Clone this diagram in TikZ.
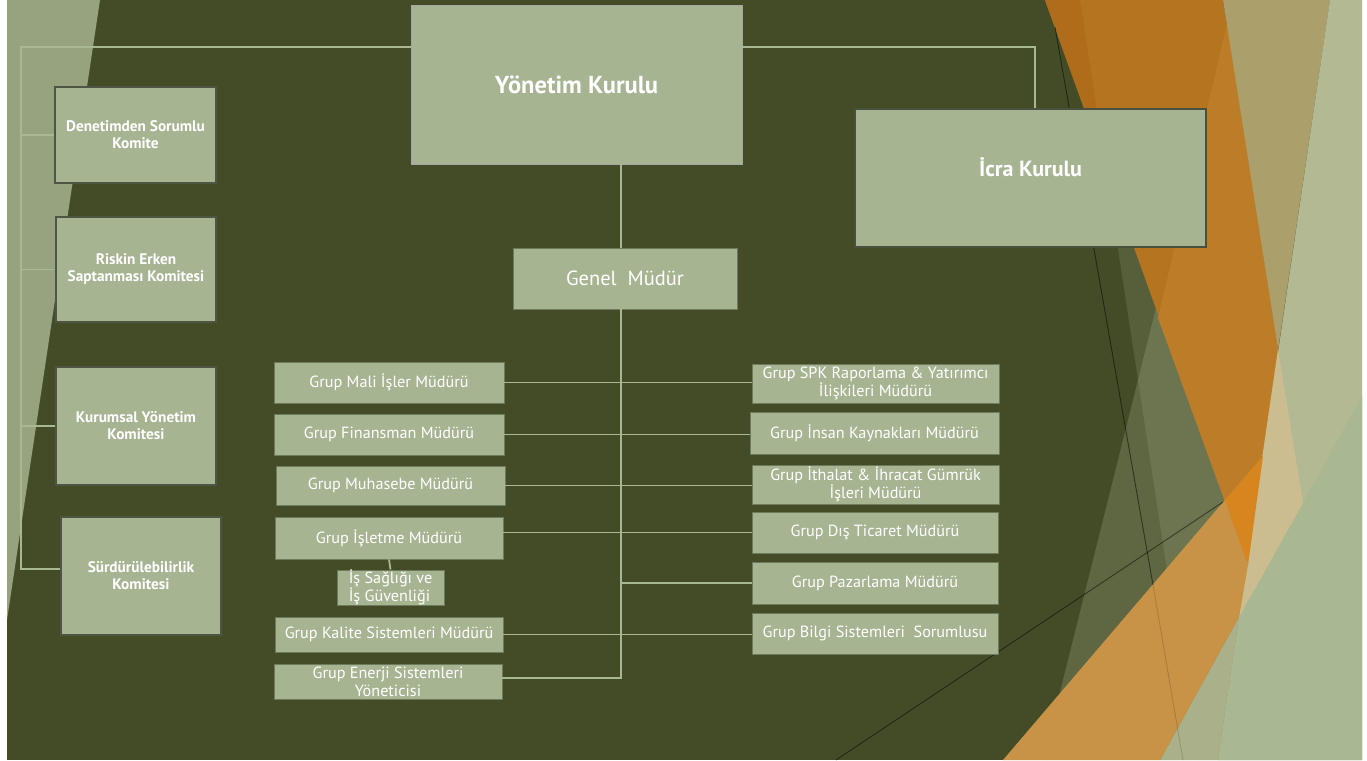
\documentclass[tikz,border=0pt]{standalone}
\usepackage{fontspec}
\setmainfont{PT Sans}

\definecolor{slide}{HTML}{444C27}
\definecolor{sage}{HTML}{A6B491}
\definecolor{sageline}{HTML}{6E7A5C}
\definecolor{komiteline}{HTML}{4E5544}
\definecolor{icraline}{HTML}{4A5040}
\definecolor{wire}{HTML}{A9B795}
\definecolor{strip}{HTML}{97A27F}
\definecolor{veil}{HTML}{B5BF9A}
\definecolor{orange1}{HTML}{B57420}
\definecolor{orange2}{HTML}{BD7D28}
\definecolor{orange0}{HTML}{AF6D1B}
\definecolor{tan}{HTML}{AB9F6B}
\definecolor{pale}{HTML}{B2B993}
\definecolor{paleg}{HTML}{A9B792}
\definecolor{khaki}{HTML}{AAB18A}
\definecolor{beige}{HTML}{CBBD8F}
\definecolor{wedge}{HTML}{C99347}
\definecolor{bright}{HTML}{D7861F}

\begin{document}
\begin{tikzpicture}[x=1pt, y=-1pt,
  kutu/.style={fill=sage, draw=sageline, line width=0.8pt, text=white, inner sep=0pt,
    align=center, font=\fontsize{16.2}{18}\selectfont},
  komite/.style={kutu, draw=komiteline, line width=1.3pt, font=\bfseries\fontsize{15.3}{17}\selectfont},
  kurul/.style={kutu, draw=gray!70, font=\bfseries\fontsize{24.5}{28}\selectfont},
  hat/.style={draw=wire, line width=1.8pt}]

\useasboundingbox (0,0) rectangle (1367,760);
\fill[white] (0,0) rectangle (1367,760);
\fill[slide] (7,0) rectangle (1362,760);

% left facet
\fill[strip] (7,0) -- (100,0) -- (7,620) -- cycle;

% right facets
\fill[veil, opacity=.17] (1080,0) -- (1362,0) -- (1362,760) -- (1196,760) -- cycle;
\fill[veil, opacity=.24] (1233,0) -- (1362,0) -- (1362,760) -- (1043,760) -- cycle;
\fill[orange1] (1045,0) -- (1223,0) -- (1278,349) -- (1248,565) -- cycle;
\fill[orange0] (1045,0) -- (1080,0) -- (1106,169) -- cycle;
\fill[orange2] (1227,24) -- (1278,349) -- (1248,565) -- (1158,318) -- cycle;
\fill[tan] (1223,0) -- (1330,0) -- (1278,349) -- cycle;
\fill[pale] (1330,0) -- (1362,0) -- (1362,760) -- (1218,760) -- cycle;
\fill[paleg] (1218,760) -- (1239,617) -- (1303,503) -- (1362,396) -- (1362,760) -- cycle;
\fill[beige] (1278,349) -- (1303,503) -- (1239,617) -- cycle;
\fill[khaki] (1160,760) -- (1239,617) -- (1218,760) -- cycle;
\fill[wedge] (1003,760) -- (1160,760) -- (1239,617) -- (1248,565) -- (1225,500) -- cycle;
\fill[bright] (1225,500) -- (1263,456) -- (1248,565) -- cycle;
\draw[black, opacity=.5, line width=.9pt] (1055,27) -- (1153,585);
\draw[black, opacity=.15, line width=.9pt] (1153,585) -- (1183,760);
\draw[black, opacity=.5, line width=.9pt] (836,760) -- (1223,502);

% boards
\node[kurul, minimum width=331pt, minimum height=159pt] (yk) at (576.5,84.5) {Yönetim Kurulu};
\node[kurul, draw=icraline, line width=2pt, font=\bfseries\fontsize{22}{26}\selectfont,
  minimum width=351pt, minimum height=138pt] (icra) at (1030.5,178)
  {\raisebox{11pt}[\height][\depth]{İcra Kurulu}};
\node[kutu, font=\fontsize{20.5}{24}\selectfont, minimum width=224pt, minimum height=61pt] (gm) at (625,278.5) {Genel\ \ Müdür};

% committees
\node[komite, minimum width=161pt, minimum height=96pt] (den) at (135.5,135) {Denetimden Sorumlu\\Komite};
\node[komite, minimum width=160pt, minimum height=105pt] (risk) at (136,269.5) {Riskin Erken\\Saptanması Komitesi};
\node[komite, minimum width=160pt, minimum height=118pt] (kur) at (136,426) {Kurumsal Yönetim\\Komitesi};
\node[komite, minimum width=160pt, minimum height=118pt] (sur) at (141,576) {Sürdürülebilirlik\\Komitesi};

% left column
\node[kutu, minimum width=230pt, minimum height=41pt] (mali) at (389,382.5) {Grup Mali İşler Müdürü};
\node[kutu, minimum width=230pt, minimum height=41pt] (fin) at (389,434.5) {Grup Finansman Müdürü};
\node[kutu, minimum width=229pt, minimum height=39pt] (muh) at (390.5,485.5) {Grup Muhasebe Müdürü};
\node[kutu, minimum width=228pt, minimum height=42pt] (isl) at (389,538) {Grup İşletme Müdürü};
\node[kutu, align=left, minimum width=107pt, minimum height=35pt] (isg) at (390.5,587.5) {İş Sağlığı ve\\İş Güvenliği};
\node[kutu, minimum width=228pt, minimum height=35pt] (kal) at (389,634.5) {Grup Kalite Sistemleri Müdürü};
\node[kutu, minimum width=228pt, minimum height=35pt] (ene) at (388,681.5) {Grup Enerji Sistemleri\\Yöneticisi};

% right column
\node[kutu, minimum width=247pt, minimum height=39pt] (spk) at (875.5,383.5) {Grup SPK Raporlama \& Yatırımcı\\İlişkileri Müdürü};
\node[kutu, minimum width=249pt, minimum height=42pt] (insan) at (874.5,433) {Grup İnsan Kaynakları Müdürü};
\node[kutu, minimum width=247pt, minimum height=39pt] (ith) at (875.5,484.5) {Grup İthalat \& İhracat Gümrük\\İşleri Müdürü};
\node[kutu, minimum width=246pt, minimum height=41pt] (dis) at (875,532.5) {Grup Dış Ticaret Müdürü};
\node[kutu, minimum width=246pt, minimum height=42pt] (paz) at (875,583) {Grup Pazarlama Müdürü};
\node[kutu, minimum width=246pt, minimum height=41pt] (bil) at (875,633.5) {Grup Bilgi Sistemleri\ \ Sorumlusu};

% lines
\coordinate (lbus) at (21,47);
\coordinate (lend) at (21,569);
\coordinate (rbus) at (1035,47);
\coordinate (tr) at (621,678);

\draw[hat] (yk.west |- lbus) -- (lbus) -- (lend) -- (lend -| sur.west);
\draw[hat] (lbus |- den.west) -- (den.west);
\draw[hat] (lbus |- risk.west) -- (risk.west);
\draw[hat] (lbus |- kur.west) -- (kur.west);
\draw[hat] (yk.east |- rbus) -- (rbus) -- (rbus |- icra.north);

\draw[hat] (yk.south -| tr) -- (gm.north -| tr);
\draw[hat] (gm.south -| tr) -- (tr) -- (tr -| ene.east);
\draw[hat] (mali.east) -- (mali.east -| spk.west);
\draw[hat] (fin.east) -- (fin.east -| insan.west);
\draw[hat] (muh.east) -- (muh.east -| ith.west);
\draw[hat] (isl.east |- dis.west) -- (dis.west);
\draw[hat] (tr |- paz.west) -- (paz.west);
\draw[hat] (kal.east) -- (kal.east -| bil.west);
\draw[hat] (isl.south) -- (isg.north);

\end{tikzpicture}
\end{document}
